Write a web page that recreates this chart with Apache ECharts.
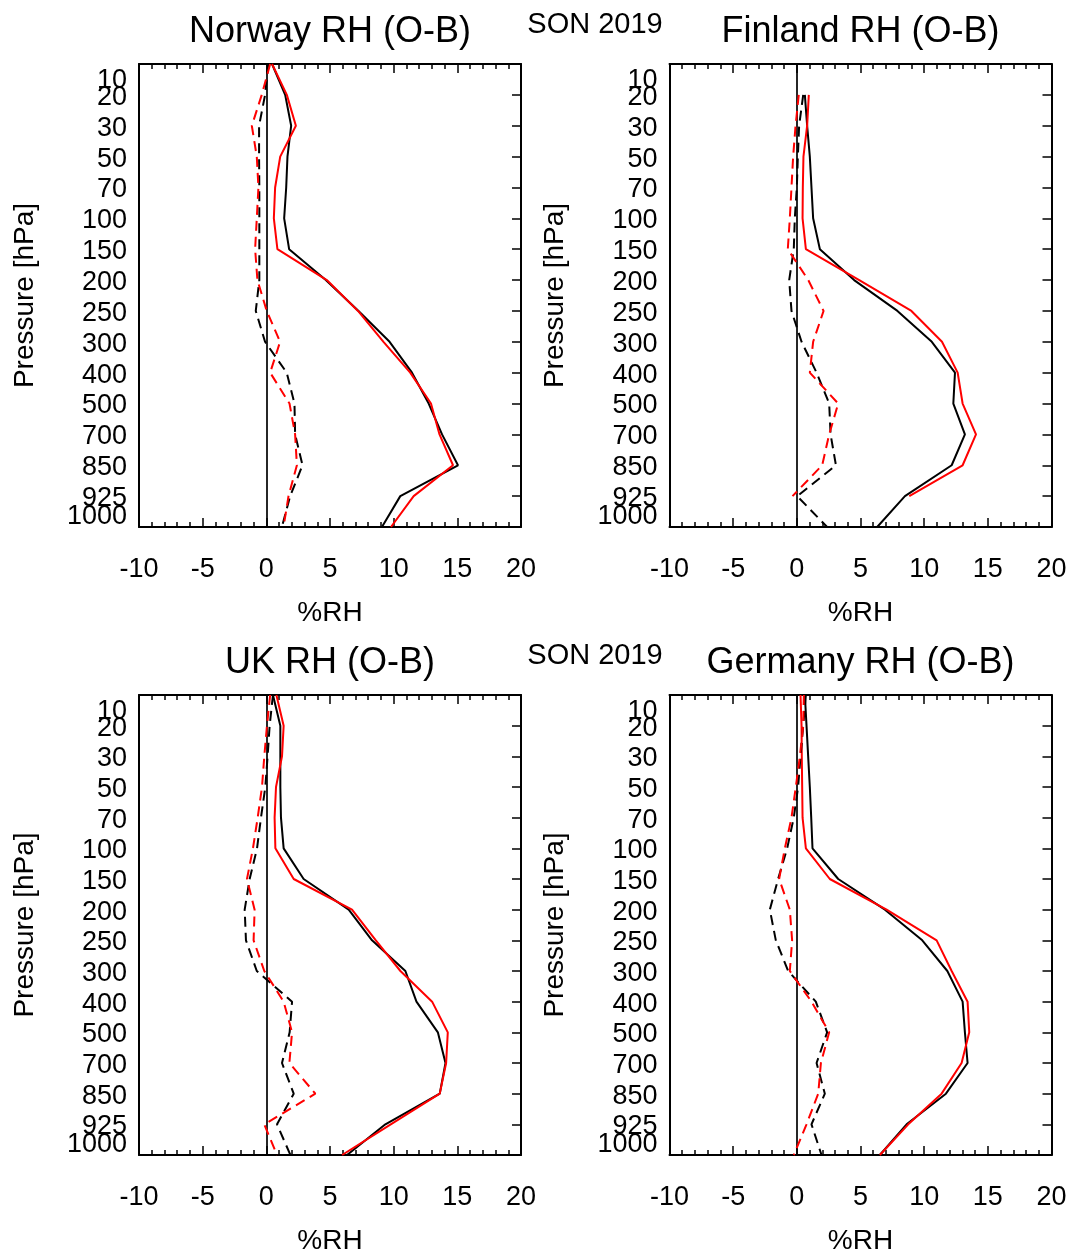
<!DOCTYPE html>
<html>
<head>
<meta charset="utf-8">
<script src="https://cdn.jsdelivr.net/npm/echarts@6/dist/echarts.min.js"></script>
<style>
html,body{margin:0;padding:0;background:#fff;}
#chart{width:1071px;height:1256px;}
</style>
</head>
<body>
<div id="chart"></div>
<script>
// Pressure levels (hPa), top to bottom
var levels = ['10','20','30','50','70','100','150','200','250','300','400','500','700','850','925','1000'];
var xTicks = [-10, -5, 0, 5, 10, 15, 20];
var season = 'SON 2019';
var xName = '%RH';
var yName = 'Pressure [hPa]';

// Norway
var norwayBlackSolid = [0.45, 1.48, 1.95, 1.66, 1.56, 1.40, 1.79, 4.67, 7.24, 9.68, 11.44, 12.75, 13.8, 15.05, 10.52, 9.08];
var norwayRedSolid   = [0.45, 1.61, 2.32, 1.09, 0.69, 0.59, 0.87, 4.75, 7.2, 9.2, 11.3, 12.93, 13.6, 14.66, 11.57, 9.79];
var norwayBlackDash  = [0.15, -0.1, -0.57, -0.57, -0.55, -0.55, -0.55, -0.55, -0.83, -0.1, 1.6, 2.21, 2.26, 2.84, 1.87, 1.22];
var norwayRedDash    = [0.3, -0.36, -1.14, -0.75, -0.62, -0.75, -0.88, -0.7, 0.03, 1.08, 0.3, 1.82, 2.26, 2.4, 1.74, 1.35];

// Finland
var finlandBlackSolid = [null, 0.63, 0.81, 1.02, 1.15, 1.28, 1.81, 4.5, 7.9, 10.6, 12.42, 12.29, 13.2, 12.16, 8.49, 6.31];
var finlandRedSolid   = [null, 0.94, 0.81, 0.52, 0.47, 0.45, 0.71, 4.9, 9.0, 11.4, 12.63, 13.02, 14.07, 13.02, 8.83, null];
var finlandBlackDash  = [null, 0.5, 0.18, 0.08, 0.0, -0.16, -0.24, -0.6, -0.42, 0.37, 1.55, 2.54, 2.65, 3.07, 0.03, 2.38];
var finlandRedDash    = [null, 0.15, -0.1, -0.29, -0.42, -0.55, -0.71, 0.9, 2.1, 1.28, 1.02, 3.25, 2.54, 1.99, -0.34, null];

// UK
var ukBlackSolid = [0.52, 1.1, 1.1, 1.1, 1.15, 1.36, 2.93, 6.47, 8.3, 10.92, 11.79, 13.47, 14.07, 13.62, 9.35, 6.34];
var ukRedSolid   = [0.79, 1.36, 1.23, 0.76, 0.65, 0.71, 2.15, 6.73, 8.6, 10.53, 13.02, 14.25, 14.12, 13.62, 9.77, 5.95];
var ukBlackDash  = [0.52, 0.26, 0.1, -0.08, -0.42, -0.73, -1.31, -1.7, -1.6, -0.75, 2.02, 1.83, 1.23, 2.15, 0.84, 1.89];
var ukRedDash    = [0.3, 0.05, -0.16, -0.34, -0.68, -1.05, -1.52, -0.92, -1.0, -0.16, 1.36, 2.02, 1.81, 3.85, -0.16, 0.84];

// Germany
var germanyBlackSolid = [0.63, 0.76, 0.89, 1.02, 1.13, 1.23, 3.25, 6.92, 9.85, 11.82, 13.02, 13.2, 13.41, 11.71, 8.62, 6.52];
var germanyRedSolid   = [0.29, 0.37, 0.39, 0.42, 0.45, 0.71, 2.59, 7.05, 10.98, 12.16, 13.41, 13.54, 12.94, 11.37, 8.75, 6.52];
var germanyBlackDash  = [0.71, 0.5, 0.29, 0.1, -0.24, -0.76, -1.47, -2.12, -1.65, -0.68, 1.49, 2.38, 1.55, 2.2, 1.15, 1.94];
var germanyRedDash    = [0.55, 0.5, 0.24, -0.08, -0.42, -0.94, -1.39, -0.55, -0.37, -0.55, 1.15, 2.54, 1.89, 1.68, 0.76, -0.24];

var panelTitles = ['Norway RH (O-B)', 'Finland RH (O-B)', 'UK RH (O-B)', 'Germany RH (O-B)'];
var panelData = [
  [norwayBlackSolid, norwayRedSolid, norwayBlackDash, norwayRedDash],
  [finlandBlackSolid, finlandRedSolid, finlandBlackDash, finlandRedDash],
  [ukBlackSolid, ukRedSolid, ukBlackDash, ukRedDash],
  [germanyBlackSolid, germanyRedSolid, germanyBlackDash, germanyRedDash]
];

var FONT = '"Liberation Sans", Arial, sans-serif';
var gridLefts = [139, 669.5, 139, 669.5];
var gridTops = [64, 64, 695, 695];
var GW = 382, GH = 463;

var grids = [], xAxes = [], yAxes = [], series = [], graphics = [];
var lastIdx = levels.length - 1;

function pairs(arr) {
  var out = [];
  for (var i = 0; i < arr.length; i++) {
    if (arr[i] !== null && arr[i] !== undefined) out.push([arr[i], i]);
  }
  return out;
}

function axisLineStyle() {
  return {show: true, onZero: false, lineStyle: {color: '#000', width: 2}};
}

for (var p = 0; p < 4; p++) {
  grids.push({left: gridLefts[p], top: gridTops[p], width: GW, height: GH, containLabel: false});
  for (var k = 0; k < 2; k++) {
    var xa = {
      type: 'value', gridIndex: p, min: xTicks[0], max: xTicks[xTicks.length - 1], interval: 5,
      position: k === 0 ? 'bottom' : 'top',
      axisLine: axisLineStyle(),
      axisTick: {show: true, inside: true, length: 9, lineStyle: {color: '#000', width: 1.5}},
      minorTick: {show: true, splitNumber: 5, length: 5, lineStyle: {color: '#000', width: 1.5}},
      splitLine: {show: false}, minorSplitLine: {show: false}
    };
    if (k === 0) {
      xa.axisLabel = {show: true, fontSize: 27, color: '#000', fontFamily: FONT, margin: 29};
      xa.name = xName;
      xa.nameLocation = 'middle';
      xa.nameGap = 72;
      xa.nameTextStyle = {fontSize: 28, color: '#000', fontFamily: FONT};
    } else {
      xa.axisLabel = {show: false};
    }
    xAxes.push(xa);
  }

  yAxes.push({
    type: 'category', gridIndex: p, data: levels, boundaryGap: false, inverse: true, position: 'left',
    axisLine: axisLineStyle(),
    axisTick: {show: false},
    splitLine: {show: false},
    axisLabel: {
      show: true, interval: 0, fontSize: 27, color: '#000', fontFamily: FONT, margin: 12,
      formatter: function (val, idx) {
        if (idx === 0) return '{t|' + val + '}';
        if (idx === lastIdx) return '{b|' + val + '}';
        return '{n|' + val + '}';
      },
      rich: {
        t: {fontSize: 27, color: '#000', fontFamily: FONT, padding: [33, 0, 0, 0]},
        n: {fontSize: 27, color: '#000', fontFamily: FONT, padding: [5, 0, 0, 0]},
        b: {fontSize: 27, color: '#000', fontFamily: FONT, padding: [0, 0, 20, 0]}
      }
    },
    name: yName, nameLocation: 'middle', nameRotate: 90, nameGap: 100,
    nameTextStyle: {fontSize: 28, color: '#000', fontFamily: FONT}
  });
  yAxes.push({
    type: 'category', gridIndex: p, data: levels, boundaryGap: false, inverse: true, position: 'right',
    axisLine: axisLineStyle(),
    axisTick: {show: true, inside: true, interval: 0, length: 9, lineStyle: {color: '#000', width: 1.5}},
    axisLabel: {show: false},
    splitLine: {show: false}
  });

  var styles = [
    {color: '#000000', type: 'solid'},
    {color: '#ff0000', type: 'solid'},
    {color: '#000000', type: [10, 6]},
    {color: '#ff0000', type: [10, 6]}
  ];
  for (var s = 0; s < 4; s++) {
    var ser = {
      type: 'line', xAxisIndex: 2 * p, yAxisIndex: 2 * p,
      data: pairs(panelData[p][s]), symbol: 'none', silent: true,
      lineStyle: {color: styles[s].color, width: 2, type: styles[s].type},
      z: 3 + s
    };
    if (s === 0) {
      ser.markLine = {
        silent: true, symbol: ['none', 'none'], label: {show: false},
        lineStyle: {color: '#000', type: 'solid', width: 1.7},
        data: [{xAxis: 0}]
      };
    }
    series.push(ser);
  }

  graphics.push({
    type: 'text', x: gridLefts[p] + GW / 2, y: gridTops[p] - 32,
    style: {text: panelTitles[p], fontSize: 36, fontFamily: FONT, fill: '#000', textAlign: 'center', textVerticalAlign: 'middle'}
  });
}
graphics.push({type: 'text', x: 595, y: 25, style: {text: season, fontSize: 29, fontFamily: FONT, fill: '#000', textAlign: 'center', textVerticalAlign: 'middle'}});
graphics.push({type: 'text', x: 595, y: 656, style: {text: season, fontSize: 29, fontFamily: FONT, fill: '#000', textAlign: 'center', textVerticalAlign: 'middle'}});

var chart = echarts.init(document.getElementById('chart'), null, {renderer: 'canvas'});
chart.setOption({
  backgroundColor: '#fff',
  animation: false,
  grid: grids,
  xAxis: xAxes,
  yAxis: yAxes,
  series: series,
  graphic: graphics
});
</script>
</body>
</html>
